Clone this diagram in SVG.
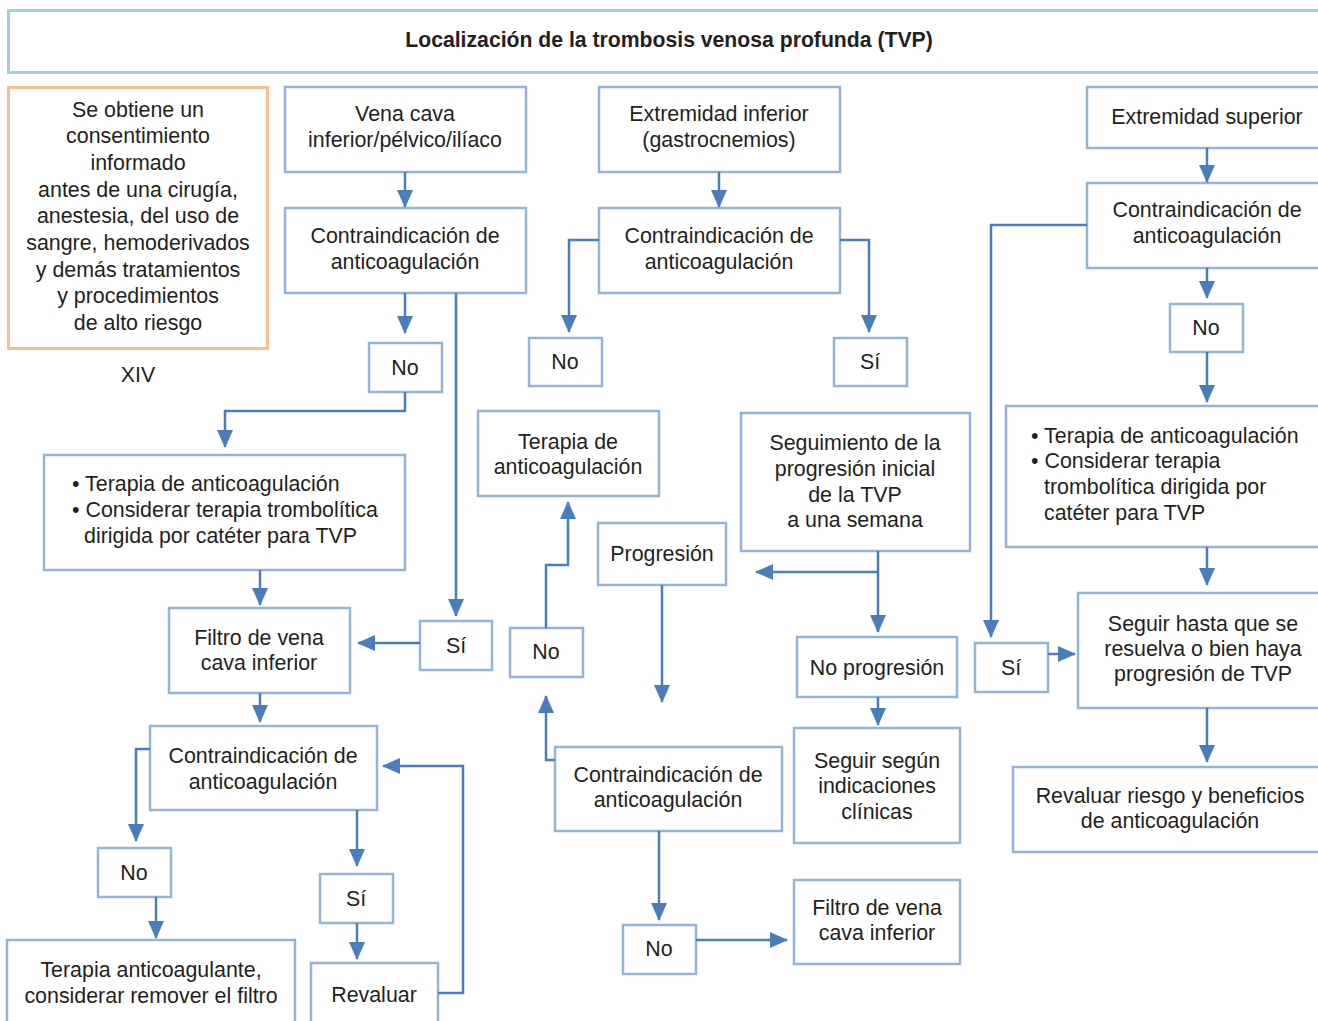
<svg xmlns="http://www.w3.org/2000/svg" width="1318" height="1021" viewBox="0 0 1318 1021">
<defs>
<marker id="ah" viewBox="0 0 18 16" refX="17" refY="8" markerWidth="18" markerHeight="16" markerUnits="userSpaceOnUse" orient="auto">
<path d="M0,0 L18,8 L0,16 z" fill="#4a7ebb"/>
</marker>
<style>
.box{fill:#fff;stroke:#95b3d7;stroke-width:2.5}
.hdr{fill:#fff;stroke:#9ed2de;stroke-width:3}
.org{fill:#fff;stroke:#f9bf8f;stroke-width:3}
.c{fill:none;stroke:#4a7ebb;stroke-width:2.5;marker-end:url(#ah)}
.l{fill:none;stroke:#4a7ebb;stroke-width:2.5}
text{font-family:"Liberation Sans",Arial,sans-serif;font-size:21.4px;fill:#231f20;text-anchor:middle}
text.s{text-anchor:start}
text.b{font-weight:bold;font-size:21.2px}
</style>
</defs>
<rect width="1318" height="1021" fill="#fff"/>

<g id="header">
<rect class="hdr" x="8.5" y="10.5" width="1322" height="62"/>
<text class="b" x="669" y="47">Localización de la trombosis venosa profunda (TVP)</text>
</g>

<g id="consent">
<rect class="org" x="8.5" y="87.5" width="259" height="261"/>
<text x="138" y="117">Se obtiene un</text>
<text x="138" y="143">consentimiento</text>
<text x="138" y="170">informado</text>
<text x="138" y="197">antes de una cirugía,</text>
<text x="138" y="223">anestesia, del uso de</text>
<text x="138" y="250">sangre, hemoderivados</text>
<text x="138" y="277">y demás tratamientos</text>
<text x="138" y="303">y procedimientos</text>
<text x="138" y="330">de alto riesgo</text>
</g>
<g id="xiv"><text x="138" y="382">XIV</text></g>

<g id="a1"><rect class="box" x="285" y="87" width="241" height="85"/>
<text x="405" y="121">Vena cava</text><text x="405" y="147">inferior/pélvico/ilíaco</text></g>
<g id="a2"><rect class="box" x="285" y="208" width="241" height="85"/>
<text x="405" y="243">Contraindicación de</text><text x="405" y="269">anticoagulación</text></g>
<g id="a-no"><rect class="box" x="369" y="343" width="73" height="49"/><text x="405" y="375">No</text></g>
<g id="a3"><rect class="box" x="44" y="455" width="361" height="115"/>
<text class="s" x="72" y="491">• Terapia de anticoagulación</text>
<text class="s" x="72" y="517">• Considerar terapia trombolítica</text>
<text class="s" x="84" y="543">dirigida por catéter para TVP</text></g>
<g id="a4"><rect class="box" x="169" y="608" width="181" height="85"/>
<text x="259" y="645">Filtro de vena</text><text x="259" y="670">cava inferior</text></g>
<g id="a-si"><rect class="box" x="420" y="621" width="72" height="49"/><text x="456" y="653">Sí</text></g>
<g id="a5"><rect class="box" x="150" y="726" width="227" height="84"/>
<text x="263" y="763">Contraindicación de</text><text x="263" y="789">anticoagulación</text></g>
<g id="a5-no"><rect class="box" x="98" y="848" width="73" height="49"/><text x="134" y="880">No</text></g>
<g id="a6"><rect class="box" x="7" y="940" width="288" height="100"/>
<text x="151" y="977">Terapia anticoagulante,</text><text x="151" y="1003">considerar remover el filtro</text></g>
<g id="a5-si"><rect class="box" x="320" y="874" width="73" height="49"/><text x="356" y="906">Sí</text></g>
<g id="a7"><rect class="box" x="311" y="963" width="127" height="80"/><text x="374" y="1002">Revaluar</text></g>

<g id="b1"><rect class="box" x="599" y="87" width="241" height="85"/>
<text x="719" y="121">Extremidad inferior</text><text x="719" y="147">(gastrocnemios)</text></g>
<g id="b2"><rect class="box" x="599" y="208" width="241" height="85"/>
<text x="719" y="243">Contraindicación de</text><text x="719" y="269">anticoagulación</text></g>
<g id="b-no"><rect class="box" x="529" y="338" width="73" height="48"/><text x="565" y="369">No</text></g>
<g id="b-si"><rect class="box" x="834" y="338" width="73" height="48"/><text x="870" y="369">Sí</text></g>
<g id="b3"><rect class="box" x="478" y="411" width="181" height="85"/>
<text x="568" y="449">Terapia de</text><text x="568" y="474">anticoagulación</text></g>
<g id="b-no2"><rect class="box" x="510" y="628" width="73" height="49"/><text x="546" y="659">No</text></g>
<g id="b4"><rect class="box" x="598" y="523" width="128" height="62"/><text x="662" y="561">Progresión</text></g>
<g id="b5"><rect class="box" x="741" y="413" width="229" height="138"/>
<text x="855" y="450">Seguimiento de la</text><text x="855" y="476">progresión inicial</text>
<text x="855" y="502">de la TVP</text><text x="855" y="527">a una semana</text></g>
<g id="b6"><rect class="box" x="797" y="637" width="160" height="60"/><text x="877" y="675">No progresión</text></g>
<g id="b7"><rect class="box" x="794" y="728" width="166" height="115"/>
<text x="877" y="768">Seguir según</text><text x="877" y="793">indicaciones</text><text x="877" y="819">clínicas</text></g>
<g id="b8"><rect class="box" x="555" y="747" width="227" height="84"/>
<text x="668" y="782">Contraindicación de</text><text x="668" y="807">anticoagulación</text></g>
<g id="b-no3"><rect class="box" x="623" y="925" width="73" height="49"/><text x="659" y="956">No</text></g>
<g id="b9"><rect class="box" x="794" y="880" width="166" height="84"/>
<text x="877" y="915">Filtro de vena</text><text x="877" y="940">cava inferior</text></g>

<g id="c1"><rect class="box" x="1087" y="87" width="245" height="61"/><text x="1207" y="124">Extremidad superior</text></g>
<g id="c2"><rect class="box" x="1087" y="183" width="245" height="85"/>
<text x="1207" y="217">Contraindicación de</text><text x="1207" y="243">anticoagulación</text></g>
<g id="c-no"><rect class="box" x="1170" y="304" width="73" height="48"/><text x="1206" y="335">No</text></g>
<g id="c3"><rect class="box" x="1006" y="406" width="330" height="141"/>
<text class="s" x="1031" y="443">• Terapia de anticoagulación</text>
<text class="s" x="1031" y="468">• Considerar terapia</text>
<text class="s" x="1044" y="494">trombolítica dirigida por</text>
<text class="s" x="1044" y="520">catéter para TVP</text></g>
<g id="c-si"><rect class="box" x="975" y="643" width="73" height="49"/><text x="1011" y="675">Sí</text></g>
<g id="c4"><rect class="box" x="1078" y="593" width="260" height="115"/>
<text x="1203" y="631">Seguir hasta que se</text><text x="1203" y="656">resuelva o bien haya</text><text x="1203" y="681">progresión de TVP</text></g>
<g id="c5"><rect class="box" x="1013" y="767" width="320" height="85"/>
<text x="1170" y="803">Revaluar riesgo y beneficios</text><text x="1170" y="828">de anticoagulación</text></g>

<g id="connectors">
<path class="c" d="M405,172 V207"/>
<path class="c" d="M405,293 V333"/>
<path class="c" d="M456,293 V616"/>
<path class="c" d="M405,392 V411 H225 V447"/>
<path class="c" d="M260,570 V605"/>
<path class="c" d="M420,643 H358"/>
<path class="c" d="M260,693 V722"/>
<path class="c" d="M150,749 H136 V841"/>
<path class="c" d="M156,897 V938"/>
<path class="c" d="M357,810 V866"/>
<path class="c" d="M357,923 V959"/>
<path class="c" d="M438,993 H463 V766 H383"/>
<path class="c" d="M719,172 V207"/>
<path class="c" d="M599,240 H569 V332"/>
<path class="c" d="M840,240 H869 V332"/>
<path class="c" d="M546,628 V565 H568 V502"/>
<path class="c" d="M662,585 V702"/>
<path class="c" d="M878,572 H756"/>
<path class="c" d="M878,551 V632"/>
<path class="c" d="M878,697 V725"/>
<path class="c" d="M555,760 H546 V696"/>
<path class="c" d="M659,831 V920"/>
<path class="c" d="M696,940 H787"/>
<path class="c" d="M1207,148 V182"/>
<path class="c" d="M1087,225 H991 V637"/>
<path class="c" d="M1207,268 V298"/>
<path class="c" d="M1207,352 V402"/>
<path class="c" d="M1207,547 V585"/>
<path class="c" d="M1048,654 H1075"/>
<path class="c" d="M1207,708 V762"/>
</g>
</svg>
